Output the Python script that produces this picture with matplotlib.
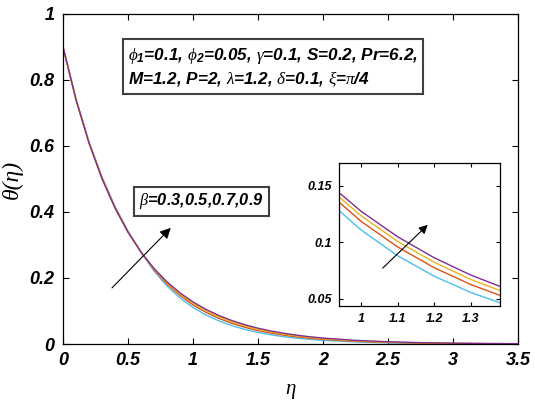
import numpy as np
import matplotlib
matplotlib.use('Agg')
import matplotlib.pyplot as plt
from matplotlib.ticker import FuncFormatter
from matplotlib.font_manager import FontProperties

plt.rcParams['mathtext.fontset'] = 'custom'
plt.rcParams['mathtext.rm'] = 'Liberation Sans:bold:italic'
plt.rcParams['mathtext.it'] = 'Liberation Serif:italic'

# eta grid and temperature profiles theta(eta) for beta = 0.3, 0.5, 0.7, 0.9
eta = [0, 0.1, 0.2, 0.3, 0.4, 0.5, 0.6, 0.7, 0.8, 0.9, 1.0, 1.1, 1.2, 1.3, 1.4, 1.5,
       1.6, 1.7, 1.8, 1.9, 2.0, 2.25, 2.5, 2.75, 3.0, 3.25, 3.5]
theta_b03 = [0.9, 0.7417, 0.6125, 0.5059, 0.4168, 0.3419, 0.2785, 0.2211, 0.1756, 0.1395,
             0.1108, 0.0880, 0.0699, 0.0555, 0.0441, 0.0350, 0.0278, 0.0220, 0.0175, 0.0139,
             0.0110, 0.0062, 0.0035, 0.0019, 0.0011, 0.0006, 0.0004]
theta_b05 = [0.9, 0.7409, 0.6106, 0.5033, 0.4143, 0.3403, 0.2785, 0.2249, 0.1816, 0.1468,
             0.1185, 0.0958, 0.0774, 0.0625, 0.0505, 0.0407, 0.0329, 0.0266, 0.0215, 0.0173,
             0.0140, 0.0082, 0.0048, 0.0028, 0.0016, 0.0010, 0.0006]
theta_b07 = [0.9, 0.7406, 0.6096, 0.5018, 0.4129, 0.3393, 0.2785, 0.2272, 0.1853, 0.1512,
             0.1234, 0.1007, 0.0822, 0.0670, 0.0547, 0.0446, 0.0364, 0.0297, 0.0243, 0.0197,
             0.0161, 0.0096, 0.0058, 0.0035, 0.0021, 0.0013, 0.0008]
theta_b09 = [0.9, 0.7402, 0.6087, 0.5006, 0.4117, 0.3386, 0.2785, 0.2290, 0.1883, 0.1549,
             0.1274, 0.1048, 0.0862, 0.0709, 0.0583, 0.0479, 0.0394, 0.0324, 0.0267, 0.0219,
             0.0180, 0.0110, 0.0068, 0.0041, 0.0025, 0.0016, 0.0010]

series = [theta_b03, theta_b05, theta_b07, theta_b09]
colors = ['#4DBEEE', '#D95319', '#EDB120', '#7E2F8E']

main_xticks = [0, 0.5, 1, 1.5, 2, 2.5, 3, 3.5]
main_yticks = [0, 0.2, 0.4, 0.6, 0.8, 1]
inset_xticks = [1, 1.1, 1.2, 1.3]
inset_yticks = [0.05, 0.1, 0.15]

tickfont = dict(family='Liberation Sans', weight='bold', style='italic')
fmt = FuncFormatter(lambda v, p: '%g' % v)

fig = plt.figure(figsize=(5.35, 4.03), dpi=100)
ax = fig.add_axes([0.1178, 0.1464, 0.8502, 0.8189])
for y, c in zip(series, colors):
    ax.plot(eta, y, color=c, lw=1.0)
ax.set_xlim(0, 3.5)
ax.set_ylim(0, 1)
ax.set_xticks(main_xticks)
ax.set_yticks(main_yticks)
ax.xaxis.set_major_formatter(fmt)
ax.yaxis.set_major_formatter(fmt)
ax.tick_params(direction='in', top=True, right=True, length=4, width=0.8, pad=6)
for lab in ax.get_xticklabels() + ax.get_yticklabels():
    lab.set_fontproperties(FontProperties(size=13, **tickfont))
for s in ax.spines.values():
    s.set_linewidth(0.9)

ax.set_xlabel('η', fontfamily='Liberation Serif', fontstyle='italic', fontsize=15, labelpad=8)
ax.set_ylabel('θ(η)', fontfamily='Liberation Serif', fontstyle='italic', fontsize=17, labelpad=5)

txt = dict(fontfamily='Liberation Sans', fontweight='bold', fontstyle='italic')
ax.text(0.50, 0.839,
        r'$\phi_1$=0.1, $\phi_2$=0.05, $\gamma$=0.1, S=0.2, Pr=6.2,' + '\n'
        + r'M=1.2, P=2, $\lambda$=1.2, $\delta$=0.1, $\xi$=$\pi$/4',
        fontsize=12.3, linespacing=1.25, va='center', ha='left',
        bbox=dict(boxstyle='square,pad=0.3', facecolor='white', edgecolor='#404040', lw=1.5),
        **txt)
ax.text(0.585, 0.432, r'$\beta$=0.3,0.5,0.7,0.9',
        fontsize=11.8, va='center', ha='left',
        bbox=dict(boxstyle='square,pad=0.3', facecolor='white', edgecolor='#404040', lw=1.5),
        **txt)
ax.annotate('', xy=(0.844, 0.358), xytext=(0.362, 0.164),
            arrowprops=dict(arrowstyle='-|>', color='black', lw=0.8, mutation_scale=16))

# inset
axi = fig.add_axes([0.6336, 0.2407, 0.301, 0.3548])
for y, c in zip(series, colors):
    axi.plot(eta, y, color=c, lw=1.0)
axi.set_xlim(0.94, 1.38)
axi.set_ylim(0.0435, 0.170)
axi.set_xticks(inset_xticks)
axi.set_yticks(inset_yticks)
axi.xaxis.set_major_formatter(fmt)
axi.yaxis.set_major_formatter(fmt)
axi.tick_params(direction='in', top=True, right=True, length=3, width=0.8, pad=5)
for lab in axi.get_xticklabels() + axi.get_yticklabels():
    lab.set_fontproperties(FontProperties(size=9, **tickfont))
for s in axi.spines.values():
    s.set_linewidth(0.9)
axi.annotate('', xy=(1.188, 0.117), xytext=(1.054, 0.0753),
             arrowprops=dict(arrowstyle='-|>', color='black', lw=0.8, mutation_scale=13))

fig.savefig('out.png', dpi=100)
